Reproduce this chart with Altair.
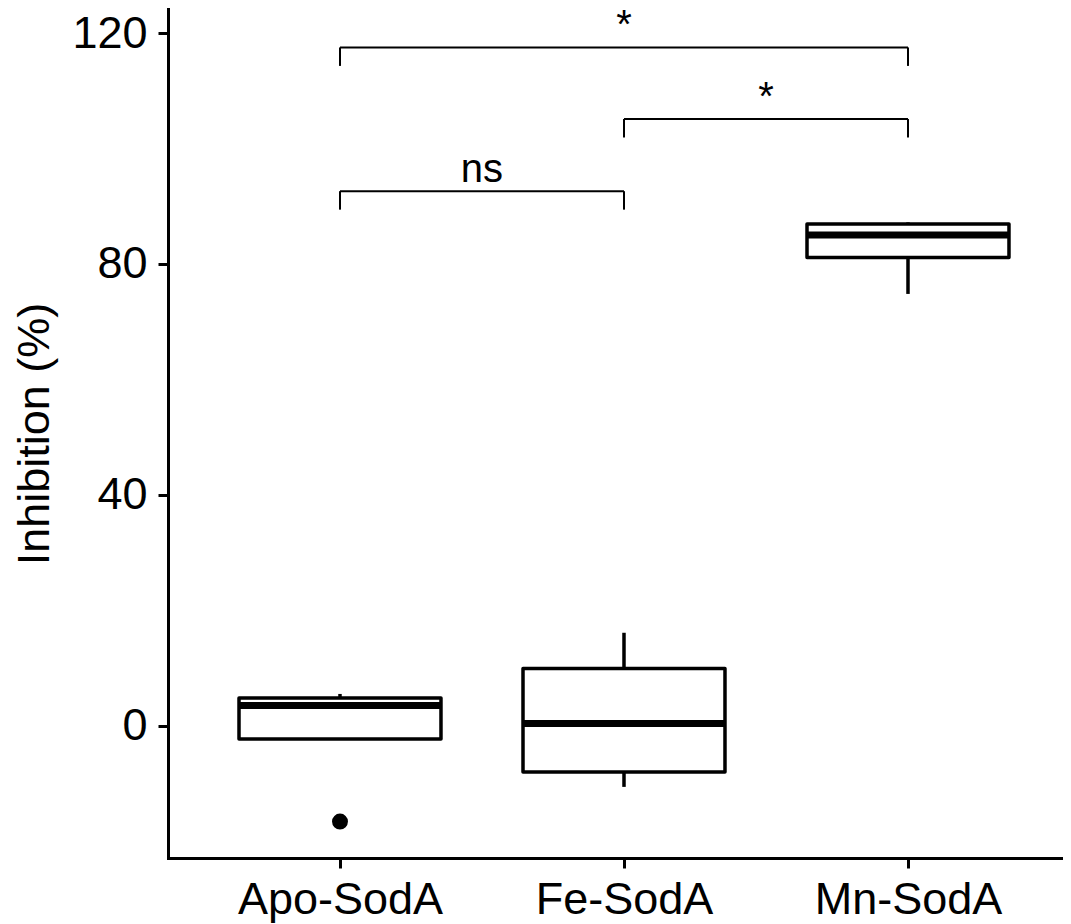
import altair as alt
import pandas as pd

# ---- data ----
categories = ["Apo-SodA", "Fe-SodA", "Mn-SodA"]
lower_whisker = [-2.3, -10.6, 74.8]
q1 = [-2.3, -8.0, 81.1]
median = [3.5, 0.4, 85.0]
q3 = [4.8, 9.9, 86.9]
upper_whisker = [5.5, 16.1, 87.2]

outlier_group = ["Apo-SodA"]
outlier_value = [-16.6]

bracket_start = ["Apo-SodA", "Fe-SodA", "Apo-SodA"]
bracket_end = ["Fe-SodA", "Mn-SodA", "Mn-SodA"]
bracket_y = [92.6, 105.1, 117.5]
bracket_label = ["ns", "*", "*"]

y_ticks = [0, 40, 80, 120]

# ---- styling constants ----
HALF = 0.3556      # half box width in category units
TIP = 3.2          # bracket tip length in y units
FONT = "Liberation Sans"

idx = {c: i + 1 for i, c in enumerate(categories)}

box = pd.DataFrame({
    "cat": categories,
    "i": [idx[c] for c in categories],
    "lw": lower_whisker, "q1": q1, "med": median, "q3": q3, "uw": upper_whisker,
})
out = pd.DataFrame({"i": [idx[c] for c in outlier_group], "v": outlier_value})

br = pd.DataFrame({
    "a": [idx[c] for c in bracket_start],
    "b": [idx[c] for c in bracket_end],
    "y": bracket_y,
    "label": bracket_label,
})

xscale = alt.Scale(domain=[0.3944, 3.5458], nice=False, zero=False)
yscale = alt.Scale(domain=[-22.92, 124.16], nice=False, zero=False)

label_expr = ("datum.value == 1 ? '%s' : datum.value == 2 ? '%s' : '%s'"
              % tuple(categories))

xaxis = alt.Axis(values=[1, 2, 3], labelExpr=label_expr, title=None, grid=False,
                 labelFontSize=45, labelFont=FONT, labelColor="black",
                 labelLimit=1000, labelOverlap=False,
                 tickSize=10, tickWidth=3, tickColor="black",
                 domainWidth=3, domainColor="black", domainCap="square",
                 labelPadding=9, labelBaseline="top")
yaxis = alt.Axis(values=y_ticks, title="Inhibition (%)", grid=False,
                 labelFontSize=45, labelFont=FONT, labelColor="black",
                 labelLimit=1000,
                 tickSize=10, tickWidth=3, tickColor="black",
                 domainWidth=3, domainColor="black", domainCap="square",
                 labelPadding=11,
                 titleFontSize=45, titleFont=FONT, titleFontWeight="normal",
                 titleColor="black", titleAngle=-90, titleX=-120, titleY=424.5,
                 titleBaseline="alphabetic", titleAlign="center", titleLimit=2000)

base = alt.Chart(box)

upper = base.mark_rule(color="black", strokeWidth=3.5).encode(
    x=alt.X("i:Q", scale=xscale, axis=xaxis),
    y=alt.Y("q3:Q", scale=yscale, axis=yaxis),
    y2="uw:Q",
)
lower = base.mark_rule(color="black", strokeWidth=3.5).encode(
    x="i:Q", y="lw:Q", y2="q1:Q",
)
rect = base.transform_calculate(
    x0=f"datum.i - {HALF}", x1=f"datum.i + {HALF}"
).mark_rect(fill="white", stroke="black", strokeWidth=3.5, strokeJoin="round").encode(
    x="x0:Q", x2="x1:Q", y="q1:Q", y2="q3:Q",
)
med = base.transform_calculate(
    x0=f"datum.i - {HALF}", x1=f"datum.i + {HALF}"
).mark_rule(color="black", strokeWidth=7, strokeCap="butt").encode(
    x="x0:Q", x2="x1:Q", y="med:Q",
)
pts = alt.Chart(out).mark_point(filled=True, color="black", size=254, opacity=1).encode(
    x="i:Q", y="v:Q",
)

bbase = alt.Chart(br)
hline = bbase.mark_rule(color="black", strokeWidth=2).encode(
    x="a:Q", x2="b:Q", y="y:Q",
)
ltip = bbase.transform_calculate(y0=f"datum.y - {TIP}").mark_rule(
    color="black", strokeWidth=2).encode(x="a:Q", y="y0:Q", y2="y:Q")
rtip = bbase.transform_calculate(y0=f"datum.y - {TIP}").mark_rule(
    color="black", strokeWidth=2).encode(x="b:Q", y="y0:Q", y2="y:Q")
txt = bbase.transform_calculate(m="(datum.a + datum.b) / 2").mark_text(
    font=FONT, fontSize=40, color="black", baseline="alphabetic", dy=-9
).encode(x="m:Q", y="y:Q", text="label:N")

chart = alt.layer(upper, lower, rect, med, pts, hline, ltip, rtip, txt).properties(
    width=895, height=849,
    padding={"left": 160, "top": 1, "right": 0, "bottom": 66},
    autosize=alt.AutoSizeParams(type="none"),
).configure_view(stroke=None)

chart.save("out.html", embed_options={"renderer": "svg", "actions": False})
